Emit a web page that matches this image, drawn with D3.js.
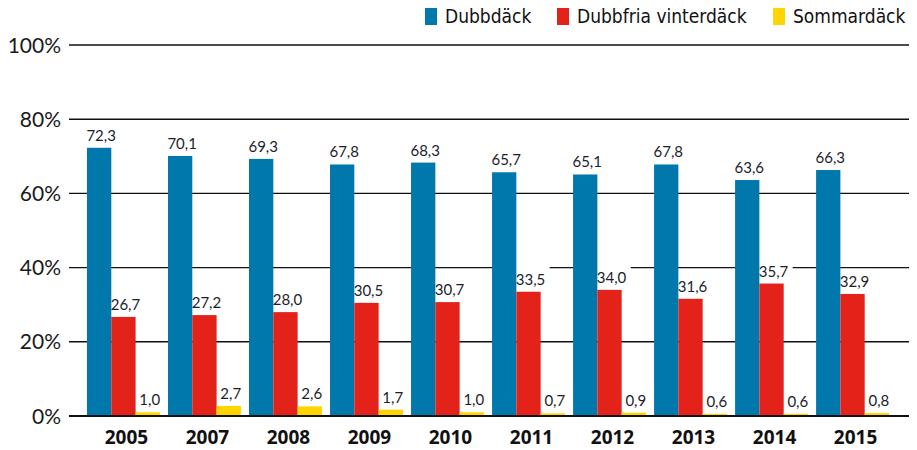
<!DOCTYPE html>
<html><head><meta charset="utf-8">
<script src="https://cdn.jsdelivr.net/npm/d3@7"></script>
<style>body{margin:0;background:#fff}svg{display:block}</style>
</head><body>
<svg id="c" width="917" height="450"></svg>
<script>
const years = ["2005","2007","2008","2009","2010","2011","2012","2013","2014","2015"];
const dubbdack = [72.3,70.1,69.3,67.8,68.3,65.7,65.1,67.8,63.6,66.3];
const dubbfria = [26.7,27.2,28.0,30.5,30.7,33.5,34.0,31.6,35.7,32.9];
const sommar = [1.0,2.7,2.6,1.7,1.0,0.7,0.9,0.6,0.6,0.8];
const seriesNames = ["Dubbdäck","Dubbfria vinterdäck","Sommardäck"];
const colors = ["#0078ab","#e32219","#ffd400"];
const yTicks = [0,20,40,60,80,100];

const svg = d3.select("#c");
const x = d3.scaleBand().domain(years).range([87, 889]).paddingInner(0.1).paddingOuter(0);
const x1 = d3.scaleBand().domain([0,1,2]).range([0, x.bandwidth()]);
const y = d3.scaleLinear().domain([0,100]).range([416, 45]);
const gridL = 69, gridR = 909;

svg.append("g").selectAll("line").data(yTicks.filter(d=>d>0)).join("line")
  .attr("x1", gridL).attr("x2", gridR)
  .attr("y1", d=>y(d)).attr("y2", d=>y(d))
  .attr("stroke", "#111").attr("stroke-width", 1.4);

svg.append("g").selectAll("text").data(yTicks).join("text")
  .attr("x", 61).attr("y", d=>y(d)).attr("dy", "0.36em")
  .attr("text-anchor","end")
  .style("font-family","Lato, 'Open Sans', sans-serif").style("font-weight",400)
  .style("font-size","21px").attr("fill","#1a1a1a")
  .text(d=>d+"%");

const data = [dubbdack, dubbfria, sommar];
const fmt = v => v.toFixed(1).replace(".", ",");

const groups = svg.append("g").selectAll("g").data(years).join("g")
  .attr("transform", d=>`translate(${x(d)},0)`);

groups.append("rect")
  .attr("x", (d,i)=>x1(1)-3).attr("width", x1.bandwidth()+12)
  .attr("y", (d,i)=>y(dubbfria[i]) - 25).attr("height", 18)
  .attr("fill","#fff");

groups.each(function(yr, i){
  const g = d3.select(this);
  data.forEach((arr, s)=>{
    g.append("rect")
      .attr("x", x1(s)).attr("width", x1.bandwidth())
      .attr("y", y(arr[i])).attr("height", y(0)-y(arr[i]))
      .attr("fill", colors[s]);
    g.append("text")
      .attr("x", x1(s)+x1.bandwidth()/2 + 2)
      .attr("y", y(arr[i]) - 7)
      .attr("text-anchor","middle")
      .style("font-family","Lato, 'Open Sans', sans-serif").style("font-weight",400)
      .style("font-size","15px").attr("fill","#1d1d2b")
      .text(fmt(arr[i]));
  });
});

svg.append("line").attr("x1", gridL).attr("x2", gridR)
  .attr("y1", y(0)).attr("y2", y(0)).attr("stroke","#111").attr("stroke-width",2);

svg.append("g").selectAll("text").data(years).join("text")
  .attr("x", d=>x(d)+x.bandwidth()/2+3).attr("y", 444)
  .attr("text-anchor","middle")
  .style("font-family","'Open Sans', Lato, sans-serif").style("font-weight",700)
  .style("font-size","19px").attr("fill","#111")
  .text(d=>d);

const legX = [425, 557, 773];
const leg = svg.append("g").selectAll("g").data(seriesNames).join("g")
  .attr("transform",(d,i)=>`translate(${legX[i]},0)`);
leg.append("rect").attr("x",0).attr("y",8).attr("width",12).attr("height",17)
  .attr("fill",(d,i)=>colors[i]);
leg.append("text").attr("x",20).attr("y",23)
  .style("font-family","'DejaVu Sans Condensed', 'Liberation Sans Narrow', sans-serif")
  .style("font-stretch","condensed")
  .style("font-size","19px").attr("fill","#111")
  .text(d=>d);
</script>
</body></html>
